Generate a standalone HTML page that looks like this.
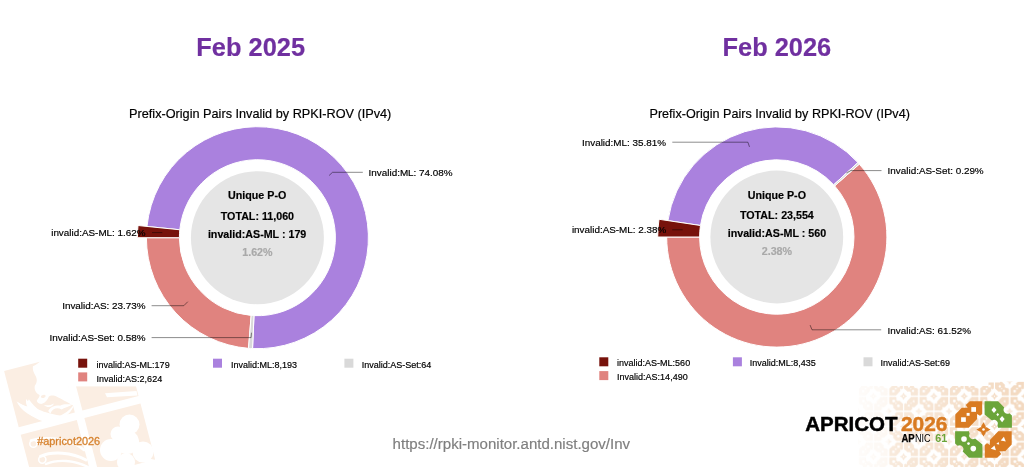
<!DOCTYPE html>
<html><head><meta charset="utf-8"><title>RPKI-ROV Invalid Prefix-Origin Pairs</title>
<style>
html,body{margin:0;padding:0;background:#fff;}
body{width:1024px;height:467px;overflow:hidden;position:relative;font-family:"Liberation Sans",sans-serif;}
svg{position:absolute;left:0;top:0;will-change:transform;}
</style></head><body>
<svg width="1024" height="467" viewBox="0 0 1024 467">
<g id="wm">
<g transform="translate(4.1 371) rotate(-14.6)">
  <!-- tile 0,0 : bird -->
  <rect x="0" y="0" width="58" height="58" fill="#FBEEE3"/>
  <path d="M38.3 -1 L58.5 -1 L58.5 51 C53 46 48 41 45 38.5 C42 35.5 38.5 35 36.9 36 C34 40 30 42 27 41 C25 40 24 38.5 24.1 37 C27 34.5 29 32.8 27.9 31.8 C24 28 25 24 26 22 C30 19 30 15 29 12 C28 8 28 5 29.1 2.6 C32 2 36 1 38.3 -1Z" fill="#fff"/>
  <path d="M4.4 32.3 C6 42 14 53 30.8 58.5 L46 58.5 C38 55.5 29 50.5 23.5 46 C19 42 16 38 14.4 32.8 C13 35 12.8 37.5 13.5 40.5 C9 38 6 35.5 4.4 32.3Z" fill="#fff"/>
  <path d="M30 43 C33 44.5 37 45 40 44 C38 47 33 47.5 30 43Z" fill="#fff"/>
  <ellipse cx="31.5" cy="34.5" rx="2.4" ry="1.5" fill="#FBEEE3"/>
  <!-- tile 1,0 -->
  <rect x="65.8" y="0" width="58" height="58" fill="#FBEEE3"/>
  <!-- tile 0,1 -->
  <rect x="0" y="65.8" width="58" height="58" fill="#FBEEE3"/>
  <!-- tile 1,1 : cloud -->
  <rect x="65.8" y="65.8" width="58" height="58" fill="#FBEEE3"/>
</g>
<path d="M 17.1 401.4 C 21.4 408.9 32.1 417.5 42.8 421.2 L 55.7 420.2 C 46.0 416.4 35.3 408.9 28.9 399.3 C 27.3 401.4 27.6 404.1 28.4 407.0 C 24.6 405.7 20.3 404.1 17.1 401.4 Z" fill="#fff"/>
<path d="M 50.3 418.3 C 60.0 416.9 68.5 412.1 73.9 404.4 C 72.8 411.1 65.3 418.0 55.7 420.5 Z" fill="#fff"/>
<path d="M 48.2 411.1 C 50.3 406.8 55.7 405.2 60.0 405.7 C 64.2 403.6 68.5 404.6 72.8 404.6 C 68.5 406.8 64.2 407.8 61.6 409.5 C 57.8 407.3 52.5 407.8 50.3 413.7 Z" fill="#fff"/>
<!-- white band in tile 1,0 -->
<path d="M105 393.2 L136.5 391 L137.5 395.4 L107 397.2Z" fill="#fff"/>
<!-- swooshes tile 0,1 -->
<g fill="none" stroke="#fff" stroke-linecap="round">
  <circle cx="33.4" cy="443.7" r="3.6" stroke-width="1.6"/>
  <path d="M31 440.6 C45 436 70 438 84 450" stroke-width="2.6"/>
  <circle cx="42.3" cy="459.6" r="3.6" stroke-width="1.6"/>
  <path d="M40.5 456.3 C52 451 72 452 86 460" stroke-width="3"/>
  <path d="M46 464 C58 459 74 460 88 467" stroke-width="2.4"/>
</g>
<!-- cloud tile 1,1 -->
<g fill="#fff">
  <circle cx="129.5" cy="424.5" r="10"/>
  <circle cx="118" cy="434" r="7.5"/>
  <circle cx="111" cy="450" r="11"/>
  <circle cx="143" cy="452" r="10.5"/>
  <circle cx="127" cy="442" r="12"/>
  <circle cx="126" cy="462" r="9"/>
  <circle cx="151" cy="466" r="7"/>
</g>
<!-- chart image white bg covering tiles -->
<rect x="62" y="90" width="450" height="296.4" fill="#fff"/>
</g>

<defs>
  <!-- motif pieces, normalized to +-1 -->
  <path id="pTL" d="M-0.986 -0.058 L-0.986 -0.528 L-0.759 -0.759 L-0.554 -0.759 L-0.619 -0.86 L-0.479 -0.986 L-0.045 -0.986 L-0.045 -0.542 L-0.122 -0.479 L-0.224 -0.542 L-0.224 -0.364 L-0.516 -0.058Z"/>
  <path id="pTR" d="M0.038 -0.986 L0.51 -0.986 L0.727 -0.769 A0.14 0.14 0 0 0 0.906 -0.566 L0.993 -0.49 L0.993 -0.058 L0.51 -0.058 L0.486 -0.147 A0.13 0.13 0 0 0 0.294 -0.311 L0.038 -0.528Z"/>
  <use id="pBR" href="#pTL" transform="rotate(180)"/>
  <use id="pBL" href="#pTR" transform="rotate(180)"/>
  <path id="pST" d="M0 -0.25 C0.035 -0.17 0.12 -0.1 0.06 -0.06 C0.1 -0.12 0.17 -0.035 0.25 0 C0.17 0.035 0.1 0.12 0.06 0.06 C0.12 0.1 0.035 0.17 0 0.25 C-0.035 0.17 -0.12 0.1 -0.06 0.06 C-0.1 0.12 -0.17 0.035 -0.25 0 C-0.17 -0.035 -0.1 -0.12 -0.06 -0.06 C-0.12 -0.1 -0.035 -0.17 0 -0.25Z"/>
  <g id="holes" fill="#fff">
    <rect x="-0.427" y="-0.783" width="0.165" height="0.165"/>
    <rect x="-0.59" y="-0.58" width="0.105" height="0.1"/>
    <rect x="-0.783" y="-0.427" width="0.165" height="0.16"/>
    <path d="M0.366 -0.79 L0.455 -0.682 L0.366 -0.574 L0.277 -0.682Z"/>
    <path d="M0.497 -0.575 L0.545 -0.521 L0.497 -0.467 L0.449 -0.521Z"/>
    <path d="M0.65 -0.472 L0.739 -0.364 L0.65 -0.256 L0.561 -0.364Z"/>
    <circle cx="-0.682" cy="0.332" r="0.098"/>
    <circle cx="-0.524" cy="0.493" r="0.047"/>
    <circle cx="-0.357" cy="0.668" r="0.098"/>
    <path d="M0.601 0.385 L0.713 0.255 L0.778 0.423Z"/>
    <path d="M0.448 0.51 L0.524 0.434 L0.552 0.524Z"/>
    <path d="M0.255 0.675 L0.385 0.563 L0.434 0.727Z"/>
    <circle cx="0" cy="0" r="0.045"/>
  </g>
  <g id="motif">
    <use href="#pTL"/><use href="#pTR"/><use href="#pBL"/><use href="#pBR"/><use href="#pST"/><use href="#holes"/>
  </g>
  <pattern id="batik" x="888.45" y="381.05" width="30.3" height="30.3" patternUnits="userSpaceOnUse">
    <g fill="#F3D9C0">
      <use href="#motif" transform="translate(15.15 15.15) scale(14.5)"/>
      <use href="#pST" fill="#F7E6D6" transform="translate(0 0) scale(14.5)"/>
      <use href="#pST" fill="#F7E6D6" transform="translate(30.3 0) scale(14.5)"/>
      <use href="#pST" fill="#F7E6D6" transform="translate(0 30.3) scale(14.5)"/>
      <use href="#pST" fill="#F7E6D6" transform="translate(30.3 30.3) scale(14.5)"/>
    </g>
  </pattern>
  <linearGradient id="fadeg" gradientUnits="userSpaceOnUse" x1="856" y1="0" x2="1024" y2="0">
    <stop offset="0" stop-color="#fff" stop-opacity="0.08"/>
    <stop offset="0.19" stop-color="#fff" stop-opacity="0.2"/>
    <stop offset="0.2" stop-color="#fff" stop-opacity="0.55"/>
    <stop offset="0.6" stop-color="#fff" stop-opacity="0.8"/>
    <stop offset="1" stop-color="#fff" stop-opacity="1"/>
  </linearGradient>
  <mask id="fadem" maskUnits="userSpaceOnUse" x="850" y="370" width="180" height="100">
    <path d="M858 386 L988.5 386 L988.5 382.6 L1000 382.6 L1000 381.5 L1024 381.5 L1024 467 L858 467Z" fill="url(#fadeg)"/>
  </mask>
</defs>
<rect x="850" y="370" width="174" height="97" fill="url(#batik)" mask="url(#fadem)"/>
<!-- icon -->
<g transform="translate(983.5 429.5) scale(28.6)">
  <use href="#pTL" fill="#D97B22"/><use href="#pTR" fill="#6BA53A"/><use href="#pBL" fill="#6BA53A"/><use href="#pBR" fill="#D97B22"/>
  <use href="#pST" fill="#D97B22"/><use href="#holes"/>
</g>
<!-- wordmark -->
<text x="805.3" y="430.9" font-family="Liberation Sans, sans-serif" font-weight="bold" font-size="20.7" fill="#000" stroke="#000" stroke-width="0.45" textLength="92.3" lengthAdjust="spacingAndGlyphs">APRICOT</text>
<text x="900.9" y="430.9" font-family="Liberation Sans, sans-serif" font-weight="bold" font-size="20.7" fill="#D97B22" stroke="#D97B22" stroke-width="0.45" textLength="46.6" lengthAdjust="spacingAndGlyphs">2026</text>
<text x="901.5" y="442.3" font-family="Liberation Sans, sans-serif" font-weight="bold" font-size="10.4" fill="#000" stroke="#000" stroke-width="0.25" textLength="13.2" lengthAdjust="spacingAndGlyphs">AP</text>
<text x="914.9" y="442.3" font-family="Liberation Sans, sans-serif" font-size="10.4" fill="#000" textLength="15.6" lengthAdjust="spacingAndGlyphs">NIC</text>
<text x="935.2" y="442.3" font-family="Liberation Sans, sans-serif" font-weight="bold" font-size="10.6" fill="#6BA53A" textLength="12" lengthAdjust="spacingAndGlyphs">61</text>

<path d="M146.97 226.43A111 111 0 1 1 252.55 348.59L253.99 315.63A78 78 0 1 0 179.80 229.78Z" fill="#AA81DE" stroke="#fff" stroke-width="1" stroke-linejoin="round"/>
<path d="M248.52 348.34A111 111 0 0 1 146.40 237.70L179.40 237.70A78 78 0 0 0 251.16 315.45Z" fill="#E0837F" stroke="#fff" stroke-width="1" stroke-linejoin="round"/>
<path d="M252.55 348.59A111 111 0 0 1 248.52 348.34L251.16 315.45A78 78 0 0 0 253.99 315.63Z" fill="#D9D9D9" stroke="#fff" stroke-width="1" stroke-linejoin="round"/>
<path d="M137.40 237.70A120 120 0 0 1 138.02 225.52L179.80 229.78A78 78 0 0 0 179.40 237.70Z" fill="#77120B" stroke="#fff" stroke-width="1" stroke-linejoin="round"/>
<circle cx="257.4" cy="237.7" r="66.5" fill="#E5E5E5"/>
<text x="260.2" y="117.8" font-size="12.7" text-anchor="middle" font-weight="normal" fill="#000" font-family="Liberation Sans, sans-serif"  stroke="#000" stroke-width="0.18">Prefix-Origin Pairs Invalid by RPKI-ROV (IPv4)</text>
<text x="257.2" y="198.7" font-size="10.7" text-anchor="middle" font-weight="bold" fill="#000" font-family="Liberation Sans, sans-serif"  stroke="#000" stroke-width="0.18">Unique P-O</text>
<text x="257.4" y="219.7" font-size="10.7" text-anchor="middle" font-weight="bold" fill="#000" font-family="Liberation Sans, sans-serif"  stroke="#000" stroke-width="0.18">TOTAL: 11,060</text>
<text x="257.1" y="237.9" font-size="10.7" text-anchor="middle" font-weight="bold" fill="#000" font-family="Liberation Sans, sans-serif"  stroke="#000" stroke-width="0.18">invalid:AS-ML : 179</text>
<text x="257.4" y="255.5" font-size="10.7" text-anchor="middle" font-weight="bold" fill="#A9A9A9" font-family="Liberation Sans, sans-serif"  stroke="#A9A9A9" stroke-width="0.18">1.62%</text>
<path d="M329.1 175.5L332.5 172.3L362.8 172.3" fill="none" stroke="#000" stroke-opacity="0.45" stroke-width="1"/>
<text x="368.6" y="175.8" font-size="9.9" text-anchor="start" font-weight="normal" fill="#000" font-family="Liberation Sans, sans-serif"  stroke="#000" stroke-width="0.18">Invalid:ML: 74.08%</text>
<path d="M152 232.6L162.3 232.6" fill="none" stroke="#000" stroke-opacity="0.45" stroke-width="1"/>
<text x="145.6" y="236.1" font-size="9.9" text-anchor="end" font-weight="normal" fill="#000" font-family="Liberation Sans, sans-serif"  stroke="#000" stroke-width="0.18">invalid:AS-ML: 1.62%</text>
<path d="M151.6 305.7L183.8 305.7L187.8 301.7" fill="none" stroke="#000" stroke-opacity="0.45" stroke-width="1"/>
<text x="145.6" y="309.4" font-size="9.9" text-anchor="end" font-weight="normal" fill="#000" font-family="Liberation Sans, sans-serif"  stroke="#000" stroke-width="0.18">Invalid:AS: 23.73%</text>
<path d="M151.6 337.6L251.1 337.6L251.5 332.7" fill="none" stroke="#000" stroke-opacity="0.45" stroke-width="1"/>
<text x="145.6" y="341.2" font-size="9.9" text-anchor="end" font-weight="normal" fill="#000" font-family="Liberation Sans, sans-serif"  stroke="#000" stroke-width="0.18">Invalid:AS-Set: 0.58%</text>
<rect x="78.2" y="358.7" width="9" height="9" fill="#77120B"/>
<text x="96.6" y="367.9" font-size="9" text-anchor="start" font-weight="normal" fill="#000" font-family="Liberation Sans, sans-serif"  stroke="#000" stroke-width="0.18">invalid:AS-ML:179</text>
<rect x="213.0" y="358.7" width="9" height="9" fill="#AA81DE"/>
<text x="231.0" y="367.9" font-size="9" text-anchor="start" font-weight="normal" fill="#000" font-family="Liberation Sans, sans-serif"  stroke="#000" stroke-width="0.18">Invalid:ML:8,193</text>
<rect x="344.4" y="358.7" width="9" height="9" fill="#D9D9D9"/>
<text x="361.8" y="367.9" font-size="9" text-anchor="start" font-weight="normal" fill="#000" font-family="Liberation Sans, sans-serif"  stroke="#000" stroke-width="0.18">Invalid:AS-Set:64</text>
<rect x="78.2" y="372.4" width="9" height="9" fill="#E0837F"/>
<text x="96.6" y="381.6" font-size="9" text-anchor="start" font-weight="normal" fill="#000" font-family="Liberation Sans, sans-serif"  stroke="#000" stroke-width="0.18">Invalid:AS:2,624</text>
<path d="M667.93 220.61A110.1 110.1 0 0 1 857.95 162.59L833.70 184.82A77.2 77.2 0 0 0 700.46 225.51Z" fill="#AA81DE" stroke="#fff" stroke-width="1" stroke-linejoin="round"/>
<path d="M859.30 164.10A110.1 110.1 0 1 1 666.70 237.00L699.60 237.00A77.2 77.2 0 1 0 834.65 185.88Z" fill="#E0837F" stroke="#fff" stroke-width="1" stroke-linejoin="round"/>
<path d="M857.95 162.59A110.1 110.1 0 0 1 859.30 164.10L834.65 185.88A77.2 77.2 0 0 0 833.70 184.82Z" fill="#D9D9D9" stroke="#fff" stroke-width="1" stroke-linejoin="round"/>
<path d="M657.70 237.00A119.1 119.1 0 0 1 659.03 219.27L700.46 225.51A77.2 77.2 0 0 0 699.60 237.00Z" fill="#77120B" stroke="#fff" stroke-width="1" stroke-linejoin="round"/>
<circle cx="776.8" cy="237.0" r="66.4" fill="#E5E5E5"/>
<text x="779.7" y="118" font-size="12.6" text-anchor="middle" font-weight="normal" fill="#000" font-family="Liberation Sans, sans-serif"  stroke="#000" stroke-width="0.18">Prefix-Origin Pairs Invalid by RPKI-ROV (IPv4)</text>
<text x="776.9" y="198.5" font-size="10.7" text-anchor="middle" font-weight="bold" fill="#000" font-family="Liberation Sans, sans-serif"  stroke="#000" stroke-width="0.18">Unique P-O</text>
<text x="776.9" y="219.1" font-size="10.7" text-anchor="middle" font-weight="bold" fill="#000" font-family="Liberation Sans, sans-serif"  stroke="#000" stroke-width="0.18">TOTAL: 23,554</text>
<text x="776.9" y="237.2" font-size="10.7" text-anchor="middle" font-weight="bold" fill="#000" font-family="Liberation Sans, sans-serif"  stroke="#000" stroke-width="0.18">invalid:AS-ML : 560</text>
<text x="776.9" y="255.0" font-size="10.7" text-anchor="middle" font-weight="bold" fill="#A9A9A9" font-family="Liberation Sans, sans-serif"  stroke="#A9A9A9" stroke-width="0.18">2.38%</text>
<path d="M672.3 142.2L747.9 142.2L749.5 146.9" fill="none" stroke="#000" stroke-opacity="0.45" stroke-width="1"/>
<text x="666" y="145.5" font-size="9.9" text-anchor="end" font-weight="normal" fill="#000" font-family="Liberation Sans, sans-serif"  stroke="#000" stroke-width="0.18">Invalid:ML: 35.81%</text>
<path d="M846.4 172.9L850.8 170.6L881.5 170.6" fill="none" stroke="#000" stroke-opacity="0.45" stroke-width="1"/>
<text x="887.6" y="174.1" font-size="9.9" text-anchor="start" font-weight="normal" fill="#000" font-family="Liberation Sans, sans-serif"  stroke="#000" stroke-width="0.18">Invalid:AS-Set: 0.29%</text>
<path d="M672.2 229.8L682.7 229.8" fill="none" stroke="#000" stroke-opacity="0.45" stroke-width="1"/>
<text x="666.3" y="233.4" font-size="9.9" text-anchor="end" font-weight="normal" fill="#000" font-family="Liberation Sans, sans-serif"  stroke="#000" stroke-width="0.18">invalid:AS-ML: 2.38%</text>
<path d="M810.1 325.1L812 329.8L881.2 329.8" fill="none" stroke="#000" stroke-opacity="0.45" stroke-width="1"/>
<text x="887.6" y="333.5" font-size="9.9" text-anchor="start" font-weight="normal" fill="#000" font-family="Liberation Sans, sans-serif"  stroke="#000" stroke-width="0.18">Invalid:AS: 61.52%</text>
<rect x="599.3" y="357.3" width="9" height="9" fill="#77120B"/>
<text x="617.1" y="365.9" font-size="9" text-anchor="start" font-weight="normal" fill="#000" font-family="Liberation Sans, sans-serif"  stroke="#000" stroke-width="0.18">invalid:AS-ML:560</text>
<rect x="732.9" y="357.3" width="9" height="9" fill="#AA81DE"/>
<text x="749.8" y="365.9" font-size="9" text-anchor="start" font-weight="normal" fill="#000" font-family="Liberation Sans, sans-serif"  stroke="#000" stroke-width="0.18">Invalid:ML:8,435</text>
<rect x="863.5" y="357.3" width="9" height="9" fill="#D9D9D9"/>
<text x="880.4" y="365.9" font-size="9" text-anchor="start" font-weight="normal" fill="#000" font-family="Liberation Sans, sans-serif"  stroke="#000" stroke-width="0.18">Invalid:AS-Set:69</text>
<rect x="599.3" y="371.1" width="9" height="9" fill="#E0837F"/>
<text x="617.1" y="379.7" font-size="9" text-anchor="start" font-weight="normal" fill="#000" font-family="Liberation Sans, sans-serif"  stroke="#000" stroke-width="0.18">Invalid:AS:14,490</text>
<text x="250.7" y="55.8" font-size="25.4" text-anchor="middle" font-weight="bold" fill="#7030A0" font-family="Liberation Sans, sans-serif"  stroke="#7030A0" stroke-width="0.18">Feb 2025</text>
<text x="776.9" y="55.7" font-size="25.4" text-anchor="middle" font-weight="bold" fill="#7030A0" font-family="Liberation Sans, sans-serif"  stroke="#7030A0" stroke-width="0.18">Feb 2026</text>
<text x="392.6" y="449.3" font-size="15.05" text-anchor="start" font-weight="normal" fill="#7F7F7F" font-family="Liberation Sans, sans-serif"  stroke="#7F7F7F" stroke-width="0.18">https://rpki-monitor.antd.nist.gov/Inv</text>
<text x="37.2" y="445.4" font-size="10.9" text-anchor="start" font-weight="normal" fill="#D6822E" font-family="Liberation Sans, sans-serif" stroke="#D6822E" stroke-width="0.3">#apricot2026</text>
</svg>
</body></html>
